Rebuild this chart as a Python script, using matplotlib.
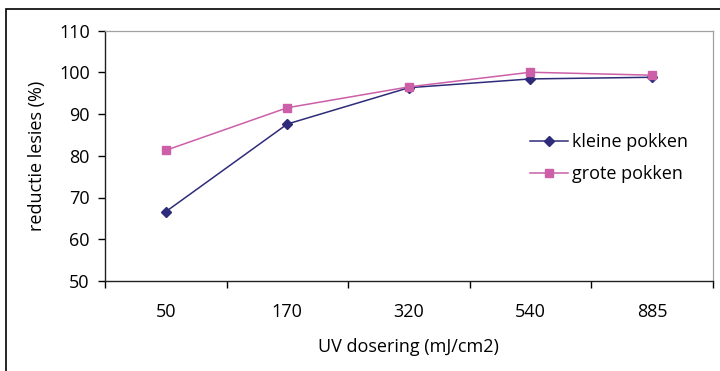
import matplotlib.pyplot as plt
from matplotlib.patches import Rectangle

# UV-dosering per klasse en reductie van lesies (%)
doseringen = ["50", "170", "320", "540", "885"]
kleine_pokken = [66.6, 87.6, 96.3, 98.4, 98.8]
grote_pokken = [81.3, 91.5, 96.5, 100.0, 99.3]

plt.rcParams['font.family'] = ['Open Sans', 'DejaVu Sans']
fs = 13

fig = plt.figure(figsize=(7.2, 3.71), dpi=100)
ax = fig.add_axes([105 / 720, 90 / 371, 607.7 / 720, 250.5 / 371])

# kader rond de hele grafiek (rechts/onder valt buiten beeld)
fig.patches.append(Rectangle((6 / 720, -0.1), 1.2, (371 - 9) / 371 + 0.1,
                             transform=fig.transFigure, fill=False,
                             edgecolor='black', linewidth=1.2))

x = range(len(doseringen))
ax.plot(x, kleine_pokken, color='#2e2c7a', marker='D', markersize=5.5,
        linewidth=1.1, label='kleine pokken')
ax.plot(x, grote_pokken, color='#cc5fa8', marker='s', markersize=6,
        linewidth=1.1, label='grote pokken')

ax.set_xlim(-0.5, len(doseringen) - 0.5)
ax.set_ylim(50, 110)
ax.set_yticks(range(50, 111, 10))

# labels in het midden, streepjes op de grenzen tussen de categorieën
ax.set_xticks(list(x))
ax.set_xticklabels(doseringen)
ax.tick_params(axis='x', which='major', length=0, pad=16, labelsize=fs)
ax.set_xticks([i - 0.5 for i in range(len(doseringen) + 1)], minor=True)
ax.tick_params(axis='x', which='minor', length=5, width=1, direction='out')
ax.tick_params(axis='y', length=5, width=1, direction='out', pad=6, labelsize=fs)

ax.set_xlabel('UV dosering (mJ/cm2)', fontsize=fs, labelpad=12)
ax.set_ylabel('reductie lesies (%)', fontsize=fs, labelpad=9)

for s in ['top', 'right']:
    ax.spines[s].set_color('#a0a0a0')
    ax.spines[s].set_linewidth(0.9)
for s in ['left', 'bottom']:
    ax.spines[s].set_color('#202020')
    ax.spines[s].set_linewidth(1)

ax.legend(loc='upper left', bbox_to_anchor=(0.699, 0.589), frameon=False,
          fontsize=fs, handlelength=2.1, handletextpad=0.25, labelspacing=0.75,
          borderaxespad=0, borderpad=0)

fig.savefig('out.png', dpi=100)
